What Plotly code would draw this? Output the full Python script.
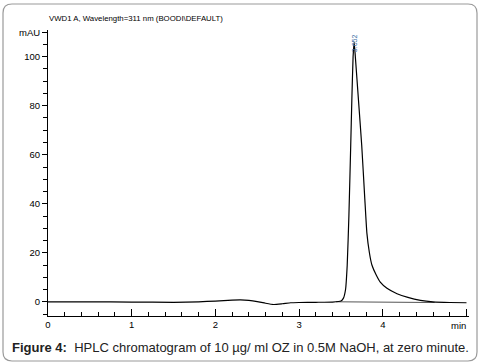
import plotly.graph_objects as go

# ---- data ----
time_min = [0.0, 0.5, 1.0, 1.5, 1.8, 2.0, 2.2, 2.3, 2.4, 2.5, 2.6, 2.7, 2.8, 2.9, 3.0,
            3.2, 3.4, 3.5, 3.53, 3.555, 3.575, 3.595, 3.617, 3.63, 3.645, 3.658, 3.672,
            3.71, 3.748, 3.785, 3.81, 3.84, 3.87, 3.92, 3.97, 4.05, 4.17, 4.3, 4.45,
            4.6, 4.8, 5.0]
absorbance_mau = [0.0, 0.0, -0.1, -0.2, 0.0, 0.3, 0.7, 0.8, 0.6, 0.1, -0.6, -1.1, -0.8, -0.4, -0.3,
                  -0.2, -0.1, 0.3, 1.5, 5.0, 15.0, 35.0, 64.0, 82.0, 100.0, 106.0, 100.0,
                  82.0, 64.0, 42.0, 28.0, 20.0, 15.0, 11.0, 8.0, 5.5, 3.3, 1.8, 0.6,
                  0.0, -0.3, -0.4]
baseline_x = [3.44, 4.62]
baseline_y = [0.0, -0.3]
peak_label = "3.652"
peak_time = 3.658
peak_height = 106.0

y_tickvals = [0, 20, 40, 60, 80, 100, 110]
y_ticktext = ["0", "20", "40", "60", "80", "100", "mAU"]
x_tickvals = [0, 1, 2, 3, 4, 5]
x_ticktext = ["0", "1", "2", "3", "4", ""]

title_text = "VWD1 A, Wavelength=311 nm (BOODI\\DEFAULT)"
caption = "<b>Figure 4:</b>  HPLC chromatogram of 10 µg/ ml OZ in 0.5M NaOH, at zero minute."

FONT = "Liberation Sans, Arial, sans-serif"

fig = go.Figure()
fig.add_trace(go.Scatter(x=baseline_x, y=baseline_y, mode="lines",
                         line=dict(color="#555555", width=1), hoverinfo="skip"))
fig.add_trace(go.Scatter(x=time_min, y=absorbance_mau, mode="lines",
                         line=dict(color="black", width=1.2, shape="spline", smoothing=0.4)))

W, H = 486, 364
L, R, T, B = 48, 17, 30, 48
pw, ph = W - L - R, H - T - B

def px(xp):
    return (xp - L) / pw

def py(yp):
    return (H - B - yp) / ph

# rounded border
x0, x1, y0, y1 = px(3), px(477), py(361), py(4)
rx, ry = 9 / pw, 9 / ph
path = (f"M {x0+rx},{y1} L {x1-rx},{y1} Q {x1},{y1} {x1},{y1-ry} "
        f"L {x1},{y0+ry} Q {x1},{y0} {x1-rx},{y0} L {x0+rx},{y0} "
        f"Q {x0},{y0} {x0},{y0+ry} L {x0},{y1-ry} Q {x0},{y1} {x0+rx},{y1} Z")
fig.add_shape(type="path", path=path, xref="paper", yref="paper",
              line=dict(color="#9a9a9a", width=1.2), layer="below")

fig.update_layout(
    width=W, height=H, margin=dict(l=L, r=R, t=T, b=B, autoexpand=False),
    paper_bgcolor="white", plot_bgcolor="white", showlegend=False,
    font=dict(family=FONT, color="black"),
)
fig.update_xaxes(range=[0, 5.03], showgrid=False, zeroline=False, showline=True, automargin=False,
                 linecolor="black", linewidth=1, ticks="inside", ticklen=7, tickwidth=1,
                 tickcolor="black", tickvals=x_tickvals, ticktext=x_ticktext,
                 tickfont=dict(size=9.5, family=FONT),
                 minor=dict(ticks="inside", ticklen=4, dtick=0.2, tick0=0, tickcolor="black", showgrid=False))
fig.update_yaxes(range=[-5.8, 110.9], showgrid=False, zeroline=False, showline=True, automargin=False,
                 linecolor="black", linewidth=1, ticks="outside", ticklen=5, tickwidth=1,
                 tickcolor="black", tickvals=y_tickvals, ticktext=y_ticktext,
                 tickfont=dict(size=9.5, family=FONT),
                 minor=dict(ticks="outside", ticklen=4, dtick=5, tick0=0, tickcolor="black", showgrid=False))

fig.add_annotation(text=title_text, xref="paper", yref="paper", x=px(47), y=py(18),
                   xanchor="left", yanchor="middle", showarrow=False,
                   font=dict(size=7.8, family=FONT, color="black"))
fig.add_annotation(text="min", xref="x", yref="paper", x=5.02, y=py(325),
                   xanchor="right", yanchor="middle", showarrow=False,
                   font=dict(size=9.5, family=FONT, color="black"))
fig.add_annotation(text=peak_label, x=peak_time, y=peak_height, xref="x", yref="y",
                   textangle=-90, yanchor="bottom", xanchor="center", yshift=-12, showarrow=False,
                   font=dict(size=7, family=FONT, color="#3a6ea5"))
fig.add_annotation(text=caption, xref="paper", yref="paper", x=px(10), y=py(347),
                   xanchor="left", yanchor="middle", showarrow=False,
                   font=dict(size=13, family=FONT, color="#222222"))

fig.write_html("out.html", config={"displayModeBar": False},
               post_script="document.body.style.margin='0';")
